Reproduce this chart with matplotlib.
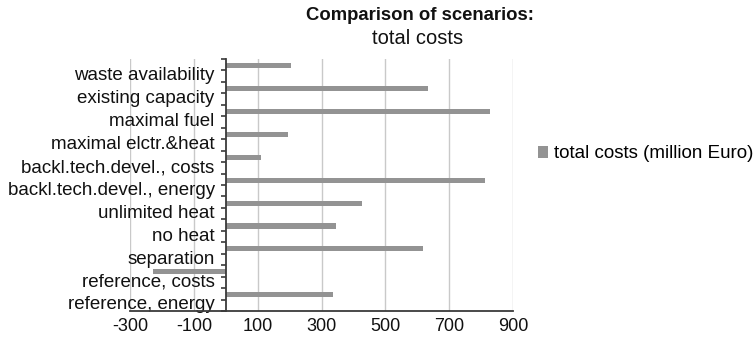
import matplotlib
matplotlib.use("Agg")
import matplotlib.pyplot as plt
from matplotlib.patches import Patch
import numpy as np

plt.rcParams['font.family'] = ['Liberation Sans', 'DejaVu Sans']

# Scenarios, listed top to bottom
scenarios = [
    "waste availability",
    "existing capacity",
    "maximal fuel",
    "maximal elctr.&heat",
    "backl.tech.devel., costs",
    "backl.tech.devel., energy",
    "unlimited heat",
    "no heat",
    "separation",
    "reference, costs",
    "reference, energy",
]
total_costs = [205, 635, 828, 195, 112, 813, 428, 345, 618, -228, 335]
x_ticks = [-300, -100, 100, 300, 500, 700, 900]
series_name = "total costs (million Euro)"

bar_color = "#939393"
grid_color = "#c9c9c9"
axis_color = "#3a3a3a"

fig = plt.figure(figsize=(7.54, 3.42), dpi=100)
ax = fig.add_axes([130 / 754, 1 - 311 / 342, 383 / 754, 252 / 342])

pos = np.arange(len(scenarios))
ax.barh(pos - 0.21, total_costs, height=0.22, color=bar_color, zorder=3)

ax.set_xlim(x_ticks[0], x_ticks[-1])
ax.set_ylim(len(scenarios) - 0.5, -0.5)

ax.set_xticks(x_ticks)
ax.set_xticklabels([str(v) for v in x_ticks])
ax.tick_params(axis='x', length=0, pad=5, labelsize=13, colors='#111111')
ax.xaxis.grid(True, color=grid_color, linewidth=1.0, zorder=0)

# Category axis sits at zero
ax.spines['left'].set_position(('data', 0))
ax.spines['left'].set_color(axis_color)
ax.spines['left'].set_linewidth(1.3)
ax.spines['left'].set_zorder(4)
ax.spines['bottom'].set_color(axis_color)
ax.spines['bottom'].set_linewidth(1.3)
ax.spines['top'].set_visible(False)
ax.spines['right'].set_visible(False)

ax.set_yticks(pos + 0.15)
ax.set_yticklabels(scenarios)
ax.tick_params(axis='y', which='major', length=0, pad=8, labelsize=13.5, colors='#111111')
ax.set_yticks(np.arange(-0.5, len(scenarios), 0.5), minor=True)
ax.tick_params(axis='y', which='minor', length=3.5, width=1.2, color=axis_color, direction='out')

fig.text(420 / 754, 1 - 16 / 342, "Comparison of scenarios:", ha='center', va='center',
         fontsize=13.3, fontweight='bold', color='#111111')
fig.text(418 / 754, 1 - 39 / 342, "total costs", ha='center', va='center',
         fontsize=14.5, color='#111111')

handle = Patch(facecolor=bar_color, edgecolor='none')
fig.legend([handle], [series_name], loc='center left', bbox_to_anchor=(538 / 754, 1 - 154 / 342),
           frameon=False, fontsize=13.5, handlelength=0.55, handleheight=0.55,
           handletextpad=0.3, borderpad=0, borderaxespad=0)

fig.savefig("out.png", dpi=100)
